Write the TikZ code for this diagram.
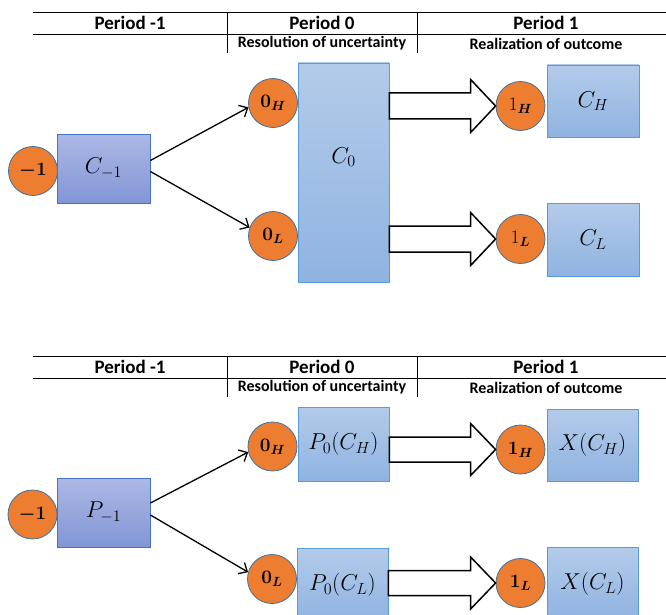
\RequirePackage{fix-cm}
\documentclass[tikz,border=0pt]{standalone}
\usepackage{amsmath,bm}
\usepackage[no-math]{fontspec}
\setmainfont{Carlito}
\usetikzlibrary{arrows.meta,calc}

\definecolor{stageorange}{RGB}{237,125,49}
\definecolor{stageline}{RGB}{65,113,156}
\definecolor{boxtop}{RGB}{180,203,234}
\definecolor{boxbottom}{RGB}{143,179,225}
\definecolor{boxline}{RGB}{91,155,213}
\definecolor{lilactop}{RGB}{172,184,228}
\definecolor{lilacbottom}{RGB}{130,150,214}
\definecolor{lilacline}{RGB}{68,114,196}

\begin{document}
\begin{tikzpicture}[x=1pt, y=-1pt,
  stage/.style={circle, draw=stageline, fill=stageorange, line width=0.8pt,
    minimum size=49pt, inner sep=0pt, font=\fontsize{19}{22}\selectfont},
  bluebox/.style={rectangle, draw=boxline, line width=0.8pt, top color=boxtop,
    bottom color=boxbottom, inner sep=0pt, font=\fontsize{23}{27}\selectfont},
  lilacbox/.style={rectangle, draw=lilacline, line width=0.8pt, top color=lilactop,
    bottom color=lilacbottom, inner sep=0pt, font=\fontsize{23}{27}\selectfont},
  head/.style={font=\bfseries\fontsize{19}{22}\selectfont},
  subhead/.style={font=\bfseries\fontsize{16}{19}\selectfont},
  rule/.style={line width=0.8pt},
  branch/.style={line width=1.3pt, -{Straight Barb[length=7pt, width=13pt]}},
  blockarrow/.style={draw, line width=1.5pt, fill=white, line join=miter}]

\useasboundingbox (0,0) rectangle (666,615);
\clip (0,0) rectangle (666,615);

% upper table
\draw[rule] (33,12)--(666,12);
\draw[rule] (33,34)--(666,34);
\draw[rule] (227,12)--(227,53);
\draw[rule] (417,12)--(417,53);
\node[head] (tper-1) at (130,23) {Period -1};
\node[head] (tper0) at (322,23) {Period 0};
\node[head] (tper1) at (546,23) {Period 1};
\node[subhead] (tres) at (322,43.5) {Resolution of uncertainty};
\node[subhead] (treal) at (546,43.5) {Realization of outcome};

% upper diagram
\node[stage] (tm) at (33,171) {$\boldsymbol{-1}$};
\node[lilacbox, minimum width=93pt, minimum height=69pt] (tCm) at (103.5,168.5) {$C_{-1}$};
\node[stage] (t0H) at (273,103) {$\mathbf{0}_{\boldsymbol{H}}$};
\node[stage] (t0L) at (273,236) {$\mathbf{0}_{\boldsymbol{L}}$};
\node[bluebox, minimum width=91pt, minimum height=219pt] (tC0) at (343.5,172.5) {};
\node[font=\fontsize{23}{27}\selectfont] (tC0lab) at (343.5,157) {$C_0$};
\node[stage] (t1H) at (520.5,106) {$1_{\boldsymbol{H}}$};
\node[stage] (t1L) at (520.5,239) {$1_{\boldsymbol{L}}$};
\node[bluebox, minimum width=92pt, minimum height=72pt] (tCH) at (593,101) {$C_H$};
\node[bluebox, minimum width=92pt, minimum height=73pt] (tCL) at (593,239.5) {$C_L$};

\draw[branch] ([yshift=8pt]tCm.east)--(t0H.190);
\draw[branch] ([yshift=-3pt]tCm.east)--(t0L.160);

\draw[blockarrow] ($(tC0.east |- t1H)+(0,-13)$)--($(t1H.west)+(-25,-13)$)--++(0,-13.5)
  --(t1H.west)--++(-25,26.5)--++(0,-13.5)--($(tC0.east |- t1H)+(0,13)$)--cycle;
\draw[blockarrow] ($(tC0.east |- t1L)+(0,-13)$)--($(t1L.west)+(-25,-13)$)--++(0,-13.5)
  --(t1L.west)--++(-25,26.5)--++(0,-13.5)--($(tC0.east |- t1L)+(0,13)$)--cycle;

% lower table
\draw[rule] (33,356)--(666,356);
\draw[rule] (33,378)--(666,378);
\draw[rule] (227,356)--(227,397);
\draw[rule] (417,356)--(417,397);
\node[head] (bper-1) at (130,367) {Period -1};
\node[head] (bper0) at (322,367) {Period 0};
\node[head] (bper1) at (546,367) {Period 1};
\node[subhead] (bres) at (322,387.5) {Resolution of uncertainty};
\node[subhead] (breal) at (546,387.5) {Realization of outcome};

% lower diagram
\node[stage] (bm) at (32.5,514.5) {$\boldsymbol{-1}$};
\node[lilacbox, minimum width=93pt, minimum height=69pt] (bPm) at (103.5,512.5) {$P_{-1}$};
\node[stage] (b0H) at (272.5,446.5) {$\mathbf{0}_{\boldsymbol{H}}$};
\node[stage] (b0L) at (272,579) {$\mathbf{0}_{\boldsymbol{L}}$};
\node[bluebox, minimum width=91pt, minimum height=74pt] (bP0H) at (343.5,444) {$P_0(C_H)$};
\node[bluebox, minimum width=91pt, minimum height=74pt] (bP0L) at (342.5,585) {$P_0(C_L)$};
\node[stage] (b1H) at (520.5,449.5) {$\mathbf{1}_{\boldsymbol{H}}$};
\node[stage] (b1L) at (520.5,583) {$\mathbf{1}_{\boldsymbol{L}}$};
\node[bluebox, minimum width=91pt, minimum height=72pt] (bXH) at (592.5,445) {$X(C_H)$};
\node[bluebox, minimum width=91pt, minimum height=74pt] (bXL) at (592.5,584) {$X(C_L)$};

\draw[branch] ([yshift=9.5pt]bPm.east)--(b0H.193);
\draw[branch] ([yshift=-2.5pt]bPm.east)--(b0L.164);

\draw[blockarrow] ($(bP0H.east |- b1H)+(0,-12.5)$)--($(b1H.west)+(-25,-12.5)$)--++(0,-13.5)
  --(b1H.west)--++(-25,26)--++(0,-13.5)--($(bP0H.east |- b1H)+(0,12.5)$)--cycle;
\draw[blockarrow] ($(bP0L.east |- b1L)+(0,-12.5)$)--($(b1L.west)+(-25,-12.5)$)--++(0,-13.5)
  --(b1L.west)--++(-25,26)--++(0,-13.5)--($(bP0L.east |- b1L)+(0,12.5)$)--cycle;

\end{tikzpicture}
\end{document}
